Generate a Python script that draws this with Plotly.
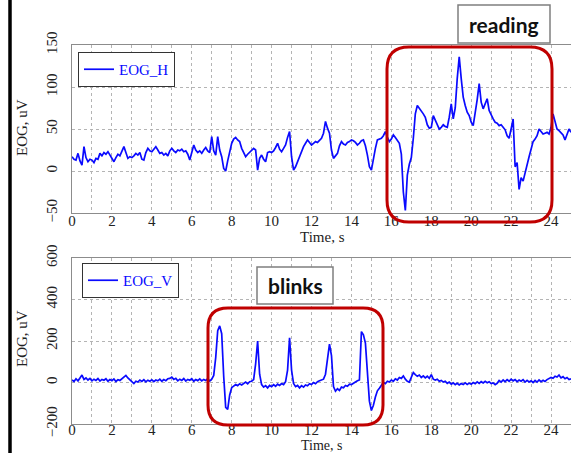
import plotly.graph_objects as go

# ---------------- data ----------------
dt = 0.1  # sampling step of the hand-read values, seconds

eog_h = [
    17, 14, 13, 21, 12, 7, 29, 16, 11, 14,
    13, 10, 15, 14, 21, 18, 22, 20, 23, 19,
    15, 11, 16, 20, 18, 23, 29, 22, 15, 17,
    16, 18, 21, 19, 22, 14, 13, 22, 27, 24,
    23, 26, 29, 25, 21, 22, 19, 21, 18, 24,
    27, 24, 22, 25, 24, 26, 23, 24, 20, 13,
    22, 31, 25, 22, 24, 21, 25, 28, 24, 22,
    41, 24, 19, 41, 25, 17, 3, 0, 12, 22,
    33, 38, 40, 37, 35, 27, 21, 17, 20, 22,
    24, 27, 25, 1, 15, 19, 14, 11, 22, 23,
    22, 24, 28, 33, 26, 23, 27, 31, 40, 47,
    17, 1, 5, 11, 18, 24, 29, 33, 37, 34,
    31, 33, 35, 34, 37, 39, 45, 59, 51, 45,
    25, 15, 18, 21, 30, 35, 32, 31, 34, 35,
    37, 36, 34, 31, 33, 36, 37, 30, 19, 5,
    1, 17, 27, 37, 38, 39, 42, 47, 40, 35,
    38, 43, 40, 37, 33, 20, -25, -47, -5, 8,
    16, 39, 68, 78, 75, 71, 68, 64, 55, 51,
    52, 66, 60, 54, 50, 52, 55, 53, 52, 64,
    80, 62, 75, 110, 136, 110, 88, 78, 70, 66,
    58, 54, 68, 85, 104, 82, 74, 80, 86, 72,
    66, 62, 58, 57, 54, 55, 52, 49, 42, 39,
    50, 62, 5, 10, -22, -8, -12, -1, 10, 17,
    26, 35, 38, 42, 50, 47, 44, 45, 46, 44,
    52, 68, 60, 50, 48, 45, 43, 37, 44, 50,
    46,
]

eog_v = [
    12, 5, 18, 8, 22, 36, 15, 22, 12, 20,
    8, 16, 10, 19, 7, 15, 11, 18, 6, 14,
    9, 17, 5, 13, 10, 18, 25, 34, 22, 12,
    4, -5, 6, 2, 12, 5, 14, 3, 11, 6,
    13, 4, 12, 8, 16, 6, 14, 9, 18, 20,
    26, 15, 20, 8, 16, 10, 19, 7, 15, 11,
    18, 6, 14, 9, 17, 8, 15, 10, 18, 7,
    16, 34, 120, 250, 273, 235, 30, -120, -130, -60,
    -25, -18, -10, -15, -6, -12, -3, 2, -6, 4,
    6, 14, 90, 200, 40, -10, -22, -15, -26, -14,
    -20, -10, -18, -8, -14, -5, -10, 4, 60, 215,
    60, -5, -20, -14, -26, -15, -22, -12, -16, -6,
    -10, 0, -6, 4, 8, 12, 16, 40, 110, 185,
    130, -20, -42, -30, -38, -22, -25, -14, -18, -8,
    -10, -2, 2, 8, 12, 245, 230, 190, 40, -90,
    -135, -110, -70, -40, -28, -12, 0, -6, 6, 2,
    12, 6, 18, 12, 24, 20, 32, 16, 6, 2,
    26, 48, 38, 30, 36, 24, 32, 22, 30, 20,
    38, 16, 12, 16, 6, 10, 2, 6, -4, 2,
    -8, -2, -10, -4, -12, -5, -10, -2, -9, -3,
    -8, 0, -6, 3, -4, 4, -2, 6, -1, 4,
    -5, -2, -10, -4, 10, 2, 12, 4, 14, 6,
    16, 8, 14, 4, 12, 6, 14, 2, 10, 3,
    8, 0, 10, 2, 12, 4, 11, 5, 14, 18,
    24, 20, 30, 26, 36, 22, 28, 18, 24, 14,
    18,
]

t_h = [round(i * dt, 2) for i in range(len(eog_h))]
t_v = [round(i * dt, 2) for i in range(len(eog_v))]

x_ticks = [0, 2, 4, 6, 8, 10, 12, 14, 16, 18, 20, 22, 24]
h_ticks = [-50, 0, 50, 100, 150]
v_ticks = [-200, 0, 200, 400, 600]

# ---------------- figure geometry ----------------
W, H = 571, 453
def fx(px):
    return px / W
def fy(py):
    return 1 - py / H

SERIF = "Liberation Serif, Times New Roman, serif"
SANS = "Lato, Open Sans, sans-serif"
BLUE = "#0a0aff"

fig = go.Figure()
fig.add_trace(go.Scatter(x=t_h, y=eog_h, mode="lines", name="EOG_H",
                         line=dict(color=BLUE, width=1.7),
                         xaxis="x", yaxis="y", legend="legend"))
fig.add_trace(go.Scatter(x=t_v, y=eog_v, mode="lines", name="EOG_V",
                         line=dict(color=BLUE, width=1.7),
                         xaxis="x2", yaxis="y2", legend="legend2"))

grid = dict(showgrid=True, gridcolor="#b4b4b4", griddash="dot", gridwidth=1)
common_x = dict(range=[0, 25], tickvals=x_ticks, showline=True, linecolor="#8c8c8c",
                linewidth=1, mirror=True, zeroline=False, ticks="", automargin=False,
                tickfont=dict(family=SERIF, size=15, color="#222"),
                minor=dict(dtick=1, showgrid=True, gridcolor="#b4b4b4",
                           griddash="dot", gridwidth=1),
                **grid)
common_y = dict(showline=True, linecolor="#8c8c8c", linewidth=1, mirror=True,
                zeroline=False, ticks="", tickangle=-90, automargin=False,
                ticklabelstandoff=8,
                tickfont=dict(family=SERIF, size=15, color="#222"), **grid)

fig.update_layout(
    width=W, height=H,
    margin=dict(l=0, r=0, t=0, b=0, autoexpand=False),
    paper_bgcolor="white", plot_bgcolor="white",
    font=dict(family=SERIF, color="#222"),
    xaxis=dict(domain=[fx(72), 1.0], anchor="y", **common_x),
    yaxis=dict(domain=[fy(213), fy(45)], anchor="x", range=[-50, 150],
               tickvals=h_ticks, **common_y),
    xaxis2=dict(domain=[fx(72), 1.0], anchor="y2", **common_x),
    yaxis2=dict(domain=[fy(424), fy(258)], anchor="x2", range=[-200, 600],
                tickvals=v_ticks, **common_y),
    legend=dict(x=fx(78), y=fy(52), xanchor="left", yanchor="top",
                bgcolor="white", bordercolor="#333", borderwidth=1,
                font=dict(family=SERIF, size=15, color=BLUE),
                itemwidth=30, tracegroupgap=0),
    legend2=dict(x=fx(82), y=fy(263), xanchor="left", yanchor="top",
                 bgcolor="white", bordercolor="#333", borderwidth=1,
                 font=dict(family=SERIF, size=15, color=BLUE),
                 itemwidth=30, tracegroupgap=0),
    showlegend=True,
)
try:
    fig.update_layout(xaxis=dict(ticklabelstandoff=-6), xaxis2=dict(ticklabelstandoff=-8))
except Exception:
    pass

# axis titles as annotations
ann = []
for (px, py, fs) in [(322, 237, 15), (322, 445, 14)]:
    ann.append(dict(x=fx(px), y=fy(py), xref="paper", yref="paper",
                    xanchor="center", yanchor="middle",
                    text="Time, s", showarrow=False,
                    font=dict(family=SERIF, size=fs, color="#222")))
for py in [128, 339]:
    ann.append(dict(x=fx(22), y=fy(py), xref="paper", yref="paper",
                    xanchor="center", yanchor="middle",
                    text="EOG, uV", showarrow=False, textangle=-90,
                    font=dict(family=SERIF, size=15, color="#222")))
# label boxes
ann.append(dict(x=fx(504), y=fy(24), xref="paper", yref="paper", text="<b>reading</b>",
                xanchor="center", yanchor="middle",
                showarrow=False, font=dict(family=SANS, size=21, color="#111")))
ann.append(dict(x=fx(295), y=fy(285.5), xref="paper", yref="paper", text="<b>blinks</b>",
                xanchor="center", yanchor="middle",
                showarrow=False, font=dict(family=SANS, size=21, color="#111")))
fig.update_layout(annotations=ann)

def rrect(x0, y0, x1, y1, r):
    rx, ry = r / W, r / H
    X0, X1, Y0, Y1 = fx(x0), fx(x1), fy(y0), fy(y1)
    return (f"M {X0+rx},{Y0} L {X1-rx},{Y0} Q {X1},{Y0} {X1},{Y0-ry} "
            f"L {X1},{Y1+ry} Q {X1},{Y1} {X1-rx},{Y1} "
            f"L {X0+rx},{Y1} Q {X0},{Y1} {X0},{Y1+ry} "
            f"L {X0},{Y0-ry} Q {X0},{Y0} {X0+rx},{Y0} Z")

shapes = [
    dict(type="line", xref="paper", yref="paper", x0=fx(10), x1=fx(10), y0=0, y1=1,
         line=dict(color="black", width=3.5)),
    dict(type="rect", xref="paper", yref="paper", x0=fx(458), x1=fx(550), y0=fy(43), y1=fy(5),
         line=dict(color="#7f7f7f", width=1.5), fillcolor="white", layer="below"),
    dict(type="rect", xref="paper", yref="paper", x0=fx(257), x1=fx(333), y0=fy(304), y1=fy(267),
         line=dict(color="#7f7f7f", width=1.5), fillcolor="white", layer="above"),
    dict(type="path", xref="paper", yref="paper", path=rrect(387, 47, 552, 222, 22),
         line=dict(color="#c00000", width=3)),
    dict(type="path", xref="paper", yref="paper", path=rrect(208, 308, 383, 425, 20),
         line=dict(color="#c00000", width=3)),
]
fig.update_layout(shapes=shapes)

fig.write_html("out.html")
